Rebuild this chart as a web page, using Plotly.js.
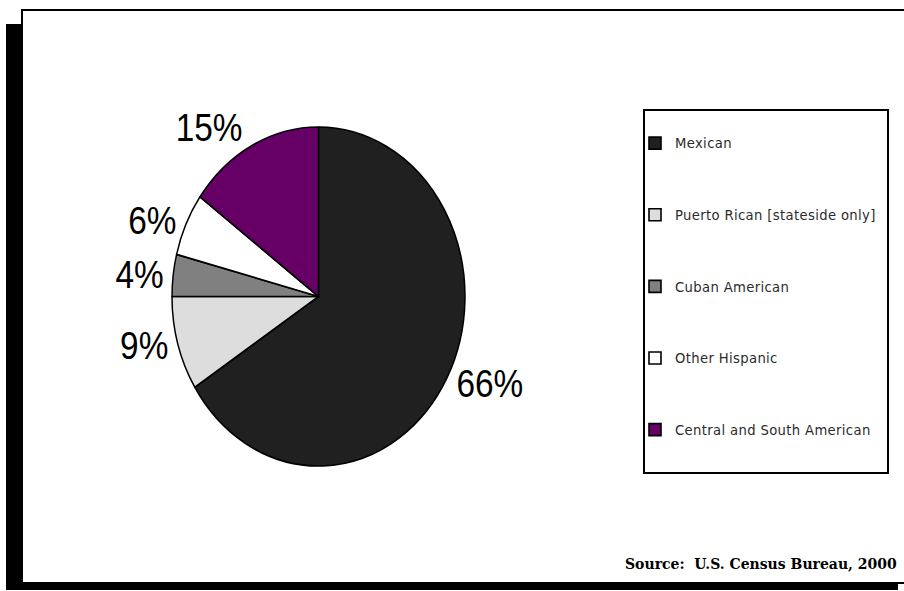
<!DOCTYPE html>
<html>
<head>
<meta charset="utf-8">
<script src="https://cdn.plot.ly/plotly-3.0.1.min.js"></script>
<style>
html, body { margin: 0; padding: 0; background: #fff; }
#chart { width: 904px; height: 591px; }
.legendtext { letter-spacing: 0.35px; }
</style>
</head>
<body>
<div id="chart"></div>
<script>
// ---- data ----
const categories = [
  "Mexican",
  "Puerto Rican [stateside only]",
  "Cuban American",
  "Other Hispanic",
  "Central and South American"
];
const shares = [66, 9, 4, 6, 15];
const sliceColors = ["#202020", "#dddddd", "#808080", "#ffffff", "#660066"];
const sourceNote = "Source:&nbsp; U.S. Census Bureau, 2000";

// ---- helpers for pixel -> paper fractions ----
const W = 904, H = 591;
const px = x => x / W;
const py = y => 1 - y / H;

// legend labels: first line is the category, extra blank lines give the tall spacing
const legendLabels = categories.map(c => c + "<br>&nbsp;<br>&nbsp;<br>&nbsp;");

// pie geometry (the original chart is slightly stretched: taller than wide)
const cx = 318.5, cy = 296.5, r = 158;
const stretchX = 146.5 / r, stretchY = 169.5 / r;

const trace = {
  type: "pie",
  labels: legendLabels,
  values: shares,
  sort: false,
  direction: "clockwise",
  rotation: 0,
  marker: { colors: sliceColors, line: { color: "#000", width: 1.6 } },
  textinfo: "percent",
  textposition: "outside",
  outsidetextfont: { family: "Liberation Sans, Arial, sans-serif", size: 36, color: "#000" },
  hoverinfo: "none",
  automargin: false,
  domain: { x: [px(cx - r), px(cx + r)], y: [py(cy + r), py(cy - r)] }
};

const layout = {
  width: W, height: H,
  margin: { l: 0, r: 0, t: 0, b: 0 },
  paper_bgcolor: "#fff",
  showlegend: true,
  legend: {
    x: px(635), xanchor: "left",
    y: py(128), yanchor: "top",
    valign: "top",
    bgcolor: "rgba(0,0,0,0)",
    borderwidth: 0,
    itemwidth: 30,
    font: { family: "DejaVu Sans, Verdana, sans-serif", size: 13.2, color: "#2b2b2b" }
  },
  shapes: [
    { type: "rect", xref: "paper", yref: "paper", layer: "below",
      x0: px(6), x1: px(898), y0: py(590), y1: py(24),
      fillcolor: "#000", line: { width: 0 } },
    { type: "rect", xref: "paper", yref: "paper", layer: "below",
      x0: px(22), x1: px(912), y0: py(583), y1: py(10),
      fillcolor: "#fff", line: { color: "#000", width: 2 } },
    { type: "rect", xref: "paper", yref: "paper", layer: "below",
      x0: px(644), x1: px(888), y0: py(473), y1: py(110),
      fillcolor: "rgba(0,0,0,0)", line: { color: "#000", width: 2 } }
  ],
  annotations: [
    { xref: "paper", yref: "paper", x: px(899), y: py(564),
      xanchor: "right", yanchor: "middle", showarrow: false,
      text: "<b>" + sourceNote + "</b>",
      font: { family: "DejaVu Serif, serif", size: 14, color: "#000" } }
  ]
};

Plotly.newPlot("chart", [trace], layout, { staticPlot: true, displayModeBar: false })
  .then(gd => {
    const pl = gd.querySelector(".pielayer");
    if (pl) {
      pl.setAttribute("transform",
        "translate(" + cx + "," + cy + ") scale(" + stretchX + "," + stretchY + ") translate(" + (-cx) + "," + (-cy) + ")");
    }
  });
</script>
</body>
</html>
